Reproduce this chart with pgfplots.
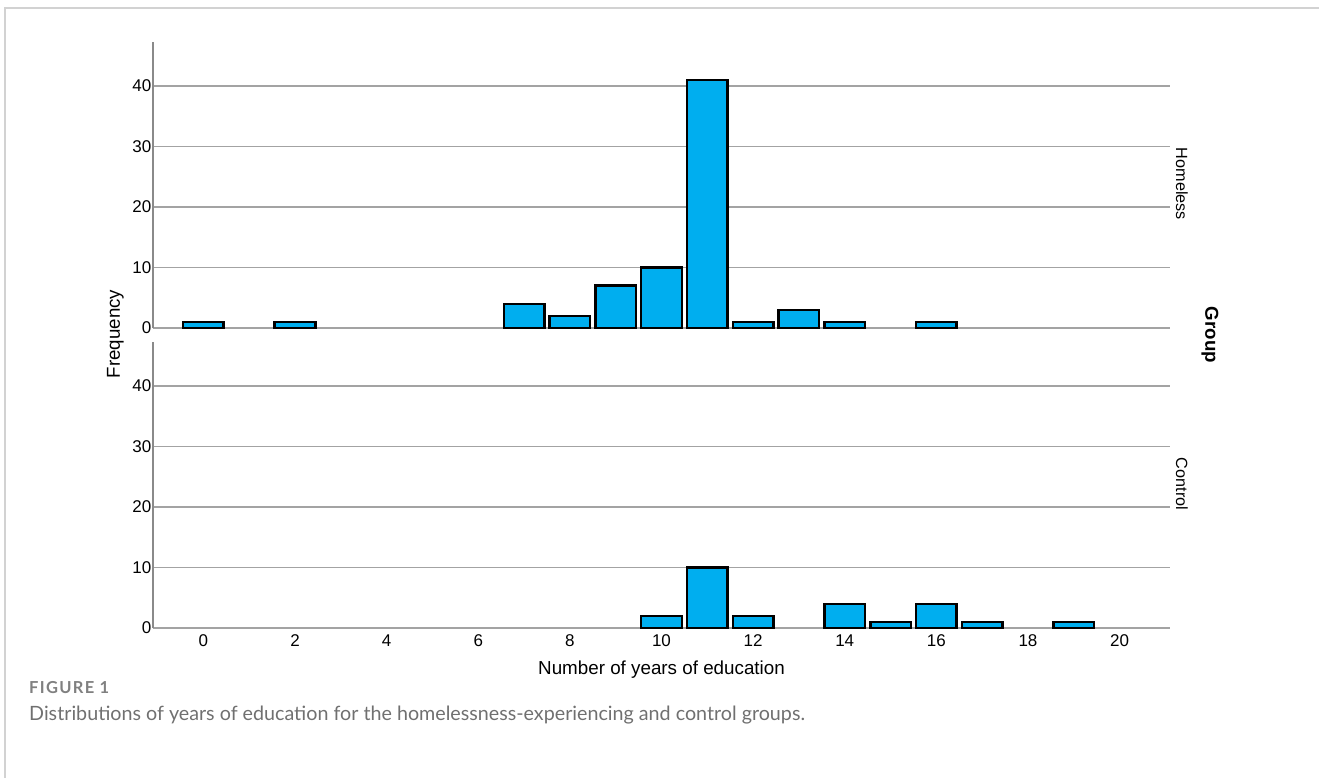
\documentclass[border=0pt]{standalone}
\usepackage{fontspec}
\setmainfont{Liberation Sans}
\newfontfamily\capfont{Lato}
\newfontfamily\figfont[LetterSpace=8]{Lato}
\usepackage{pgfplots}
\usepackage{pgfplotstable}
\pgfplotsset{compat=1.18}
\definecolor{barblue}{HTML}{00AEEF}
\definecolor{gridgray}{HTML}{A3A3A3}
\definecolor{axisgray}{HTML}{8A8A8A}
\definecolor{framegray}{HTML}{D2D2D2}
\definecolor{capgray}{HTML}{707070}
\definecolor{figgray}{HTML}{808080}

\pgfplotstableread{
x y
0 1
2 1
7 4
8 2
9 7
10 10
11 41
12 1
13 3
14 1
16 1
}\homeless

\pgfplotstableread{
x y
10 2
11 10
12 2
14 4
15 1
16 4
17 1
19 1
}\control

\pgfplotsset{
  panel/.style={
    scale only axis,
    width=1017pt, height=285.5pt,
    xmin=-1.1, xmax=21.1, ymin=0, ymax=47.2,
    axis lines*=left,
    axis line style={-},
    x axis line style={draw=gridgray, line width=1.5pt},
    y axis line style={draw=axisgray, line width=1.5pt},
    ymajorgrids,
    grid style={gridgray, line width=1.5pt},
    ytick={0,10,20,30,40},
    major tick length=0pt,
    /pgf/number format/assume math mode=true,
    tick label style={font=\fontsize{17}{19}\selectfont},
    yticklabel style={inner xsep=1.5pt},
    xticklabel style={inner ysep=6pt, text height=12.2pt, text depth=0pt},
    clip=false,
  },
  bars/.style={
    ybar, bar width=0.885, fill=barblue, draw=black, line width=2.5pt,
  },
}

\begin{document}
\begin{tikzpicture}
\path[use as bounding box] (0pt,0pt) rectangle (1319pt,778pt);
\draw[framegray, line width=2pt] (5pt,0pt) -- (5pt,770pt) -- (1319pt,770pt);

\begin{axis}[panel, at={(153pt,450pt)}, anchor=south west, xtick=\empty]
  \addplot[bars] table[x=x, y=y] {\homeless};
\end{axis}

\begin{axis}[panel, at={(153pt,150pt)}, anchor=south west, xtick={0,2,...,20}]
  \addplot[bars] table[x=x, y=y] {\control};
\end{axis}

\node[rotate=90, font=\fontsize{18.7}{21}\selectfont] at (115.5pt,444pt) {Frequency};
\node[font=\fontsize{18.8}{21}\selectfont] at (661.5pt,108pt) {Number of years of education};
\node[rotate=-90, font=\fontsize{16.2}{18}\selectfont] at (1182pt,594pt) {Homeless};
\node[rotate=-90, font=\fontsize{16.2}{18}\selectfont] at (1182pt,294pt) {Control};
\node[rotate=-90, font=\bfseries\fontsize{18.7}{21}\selectfont] at (1210pt,443pt) {Group};

\node[anchor=west, inner sep=0pt, text=figgray, font=\figfont\bfseries\fontsize{16.5}{18}\selectfont] at (29pt,90pt) {FIGURE 1};
\node[anchor=west, inner sep=0pt, text=capgray, font=\capfont\fontsize{19.7}{22}\selectfont] at (29pt,63pt) {Distributions of years of education for the homelessness-experiencing and control groups.};
\end{tikzpicture}
\end{document}
